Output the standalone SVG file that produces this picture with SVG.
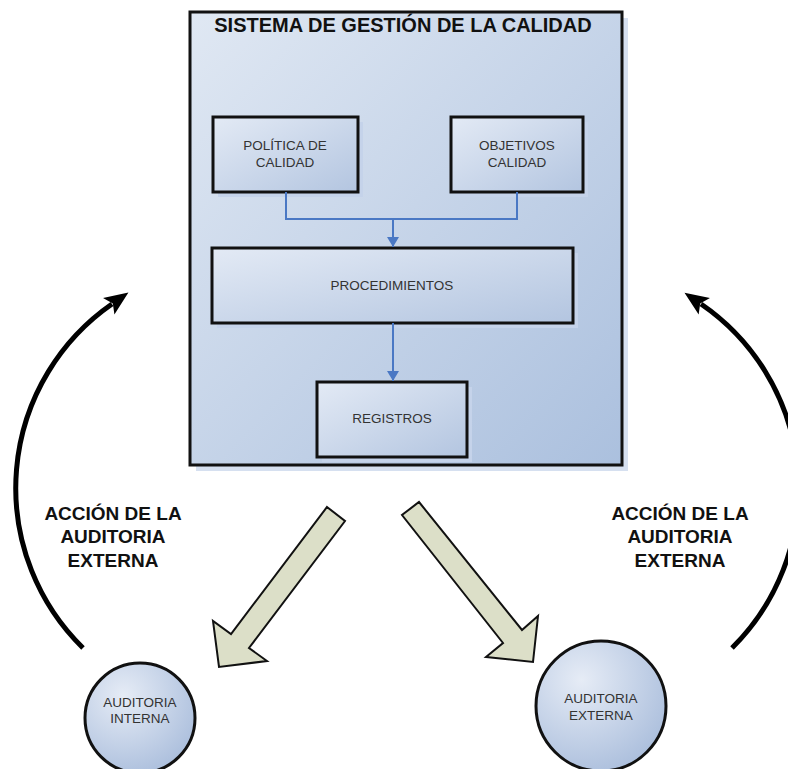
<svg xmlns="http://www.w3.org/2000/svg" width="788" height="769" viewBox="0 0 788 769">
<defs>
<linearGradient id="gMain" x1="0" y1="0" x2="1" y2="1">
<stop offset="0" stop-color="#e0e8f3"/>
<stop offset="1" stop-color="#abc0de"/>
</linearGradient>
<linearGradient id="gBox" x1="0" y1="0" x2="1" y2="1">
<stop offset="0" stop-color="#e3eaf5"/>
<stop offset="1" stop-color="#b3c5e0"/>
</linearGradient>
<radialGradient id="gCirc" cx="0.35" cy="0.3" r="0.8">
<stop offset="0" stop-color="#e6ecf6"/>
<stop offset="1" stop-color="#a8bcdb"/>
</radialGradient>
<marker id="blueHead" markerWidth="12" markerHeight="12" refX="10" refY="6" orient="auto" markerUnits="userSpaceOnUse">
<path d="M0,0 L10,6 L0,12 z" fill="#4a78c4"/>
</marker>
<marker id="blackHead" markerWidth="26" markerHeight="24" refX="4" refY="12" orient="auto" markerUnits="userSpaceOnUse">
<path d="M0,2 L24,12 L0,22 L5,12 z" fill="#000"/>
</marker>
</defs>
<style>
.box{stroke:#111;stroke-width:3;fill:url(#gBox)}
.shadow{fill:#c5d3ea}
.lbl{font-family:"Liberation Sans",Arial,sans-serif;font-size:13.5px;fill:#333;text-anchor:middle}
.big{font-family:"Liberation Sans",Arial,sans-serif;font-size:19px;font-weight:bold;fill:#111;text-anchor:middle}
.conn{stroke:#4a78c4;stroke-width:2;fill:none}
.curve{stroke:#000;stroke-width:5;fill:none}
.block{fill:#dcdfc8;stroke:#111;stroke-width:2;stroke-linejoin:miter}
</style>

<g id="sistema">
<rect x="196" y="18" width="432" height="453" class="shadow" fill-opacity="0.7"/>
<rect x="190" y="12" width="432" height="453" fill="url(#gMain)" stroke="#111" stroke-width="3"/>
<text x="403" y="32" class="big" style="font-size:20px">SISTEMA DE GESTIÓN DE LA CALIDAD</text>
</g>

<g id="politica">
<rect x="218" y="122" width="145" height="75" class="shadow"/>
<rect x="213" y="117" width="145" height="75" class="box"/>
<text x="285" y="150" class="lbl">POLÍTICA DE</text>
<text x="285" y="167" class="lbl">CALIDAD</text>
</g>

<g id="objetivos">
<rect x="456" y="122" width="132" height="75" class="shadow"/>
<rect x="451" y="117" width="132" height="75" class="box"/>
<text x="517" y="150" class="lbl">OBJETIVOS</text>
<text x="517" y="167" class="lbl">CALIDAD</text>
</g>

<g id="procedimientos">
<rect x="217" y="253" width="361" height="75" class="shadow"/>
<rect x="212" y="248" width="361" height="75" class="box"/>
<text x="392" y="290" class="lbl">PROCEDIMIENTOS</text>
</g>

<g id="registros">
<rect x="322" y="387" width="150" height="75" class="shadow"/>
<rect x="317" y="382" width="150" height="75" class="box"/>
<text x="392" y="423" class="lbl">REGISTROS</text>
</g>

<g id="auditoria-interna">
<circle cx="140" cy="718" r="55" fill="url(#gCirc)" stroke="#111" stroke-width="3"/>
<text x="140" y="707" class="lbl">AUDITORIA</text>
<text x="140" y="723" class="lbl">INTERNA</text>
</g>

<g id="auditoria-externa">
<circle cx="601" cy="706" r="65" fill="url(#gCirc)" stroke="#111" stroke-width="3"/>
<text x="601" y="703" class="lbl">AUDITORIA</text>
<text x="601" y="720" class="lbl">EXTERNA</text>
</g>

<g id="label-left">
<text x="113" y="520" class="big">ACCIÓN DE LA</text>
<text x="113" y="543" class="big">AUDITORIA</text>
<text x="113" y="567" class="big">EXTERNA</text>
</g>

<g id="label-right">
<text x="680" y="520" class="big">ACCIÓN DE LA</text>
<text x="680" y="543" class="big">AUDITORIA</text>
<text x="680" y="567" class="big">EXTERNA</text>
</g>

<g id="connectors">
<path d="M286,192 V219 H517 V192" class="conn"/>
<path d="M393,219 V247" class="conn" marker-end="url(#blueHead)"/>
<path d="M393,323 V381" class="conn" marker-end="url(#blueHead)"/>
<path d="M83,648 A224,224 0 0 1 112,304" class="curve" marker-end="url(#blackHead)"/>
<path d="M732,648 A224,224 0 0 0 701,304" class="curve" marker-end="url(#blackHead)"/>
<polygon class="block" points="327,507 345,521 249,648 267,661 219,667 213,621 231,634"/>
<polygon class="block" points="419,502 522,630 538,616 533,662 486,657 503,643 402,515"/>
</g>
</svg>
